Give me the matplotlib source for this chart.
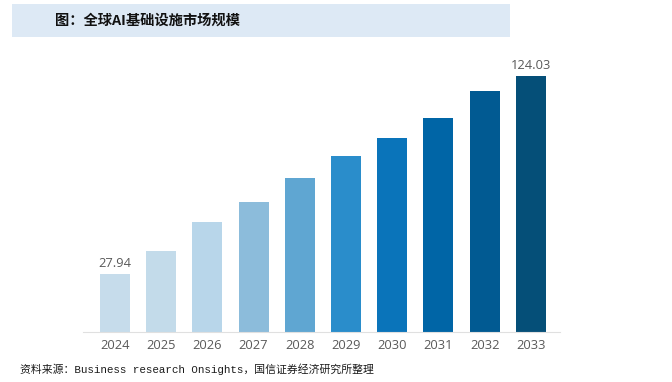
import matplotlib.pyplot as plt
from matplotlib.patches import Rectangle

plt.rcParams['font.family'] = ['Noto Sans CJK SC', 'DejaVu Sans']

years = ["2024", "2025", "2026", "2027", "2028", "2029", "2030", "2031", "2032", "2033"]
values = [27.94, 39.2, 53.2, 62.9, 74.5, 85.0, 94.1, 103.8, 116.7, 124.03]
colors = ["#c6dceb", "#c3dbea", "#b8d6ea", "#8cbcdb", "#5fa6d2", "#2a8dcb",
          "#0a74ba", "#0065a6", "#015a92", "#054f78"]
labels = {0: "27.94", 9: "124.03"}

fig = plt.figure(figsize=(6.72, 3.82), dpi=100)

# title band
fig.patches.append(Rectangle((12 / 672, 1 - 37 / 382), 498 / 672, 33 / 382,
                             transform=fig.transFigure, facecolor="#dde9f5",
                             edgecolor="none", zorder=0))
fig.text(55 / 672, 1 - 21 / 382, "图：全球AI基础设施市场规模", fontsize=10.3,
         fontweight="bold", color="#111111", va="center", ha="left")

ax = fig.add_axes([83 / 672, 1 - 332 / 382, 477 / 672, 272 / 382])
x = list(range(len(years)))
ax.bar(x, values, width=0.65, color=colors, zorder=2)
for i, t in labels.items():
    ax.text(i, values[i] + 2, t, ha="center", va="bottom", fontsize=9.3,
            color="#595959", family=["Open Sans", "DejaVu Sans"])

ax.set_xlim(-0.69, 9.63)
ax.set_ylim(0, 131.7)
ax.set_xticks(x)
ax.set_xticklabels(years, fontsize=9.3, color="#595959",
                   family=["Open Sans", "DejaVu Sans"])
ax.tick_params(axis="x", length=0, pad=5)
ax.set_yticks([])
for s in ["top", "right", "left"]:
    ax.spines[s].set_visible(False)
ax.spines["bottom"].set_color("#e0e0e0")
ax.spines["bottom"].set_linewidth(0.8)

fig.text(20 / 672, 1 - 369 / 382,
         "资料来源：Business research Onsights，国信证券经济研究所整理",
         fontsize=7.8, color="#1a1a1a", va="center", ha="left",
         family=["Liberation Mono", "Noto Sans CJK SC"])

fig.savefig("out.png", dpi=100)
